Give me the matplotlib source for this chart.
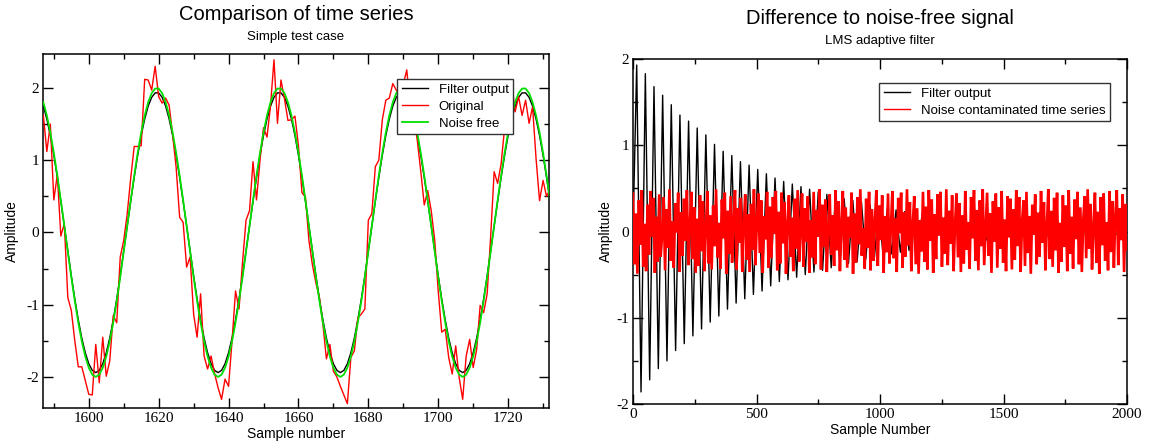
import numpy as np
import matplotlib
matplotlib.use("Agg")
import matplotlib.pyplot as plt
from matplotlib.ticker import MultipleLocator

plt.rcParams['font.family'] = ['Liberation Sans', 'DejaVu Sans']
plt.rcParams['axes.unicode_minus'] = False

# ---- left panel: samples 1587..1732 ----
sample_start = 1587
filter_output = [
    1.748, 1.569, 1.341, 1.068, 0.762, 0.432, 0.087, -0.260, -0.599, -0.920, -1.210, -1.461, -1.665, -1.817, -1.909, -1.940, -1.909, -1.817,
    -1.665, -1.461, -1.210, -0.920, -0.599, -0.260, 0.087, 0.432, 0.762, 1.068, 1.341, 1.569, 1.748, 1.870, 1.932, 1.932, 1.870,
    1.748, 1.569, 1.341, 1.068, 0.762, 0.432, 0.087, -0.260, -0.599, -0.920, -1.210, -1.461, -1.665, -1.817, -1.909, -1.940, -1.909, -1.817,
    -1.665, -1.461, -1.210, -0.920, -0.599, -0.260, 0.087, 0.432, 0.762, 1.068, 1.341, 1.569, 1.748, 1.870, 1.932, 1.932, 1.870,
    1.748, 1.569, 1.341, 1.068, 0.762, 0.432, 0.087, -0.260, -0.599, -0.920, -1.210, -1.461, -1.665, -1.817, -1.909, -1.940, -1.909, -1.817,
    -1.665, -1.461, -1.210, -0.920, -0.599, -0.260, 0.087, 0.432, 0.762, 1.068, 1.341, 1.569, 1.748, 1.870, 1.932, 1.932, 1.870,
    1.748, 1.569, 1.341, 1.068, 0.762, 0.432, 0.087, -0.260, -0.599, -0.920, -1.210, -1.461, -1.665, -1.817, -1.909, -1.940, -1.909, -1.817,
    -1.665, -1.461, -1.210, -0.920, -0.599, -0.260, 0.087, 0.432, 0.762, 1.068, 1.341, 1.569, 1.748, 1.870, 1.932, 1.932, 1.870,
    1.748, 1.569, 1.341, 1.068, 0.762, 0.432,
]
original = [
    1.62, 1.12, 1.50, 0.45, 0.80, -0.05, 0.12, -0.90, -1.08, -1.50, -1.86, -1.86, -2.05, -2.24, -2.25, -1.55, -2.08, -1.45, -1.99, -1.78,
    -1.15, -1.25, -0.34, -0.11, 0.26, 0.75, 1.19, 1.19, 1.20, 2.12, 2.11, 1.97, 2.30, 1.88, 1.79, 1.86, 1.76, 1.35, 0.90, 0.21,
    0.14, -0.48, -0.34, -1.13, -1.45, -0.85, -1.71, -1.89, -1.71, -1.95, -2.15, -2.31, -2.03, -2.13, -1.50, -0.81, -1.06, -0.41, 0.17, 0.30,
    0.98, 0.45, 1.00, 1.45, 1.32, 1.75, 2.39, 1.51, 2.11, 1.85, 1.55, 1.56, 1.61, 1.20, 0.55, 0.49, -0.11, -0.45, -0.70, -0.90,
    -1.27, -1.75, -1.55, -1.92, -2.00, -2.13, -2.25, -2.37, -1.73, -1.64, -1.18, -1.13, -1.06, 0.17, 0.26, 0.91, 1.00, 1.56, 1.83, 1.86,
    2.06, 1.97, 1.90, 2.05, 2.25, 1.75, 1.60, 1.28, 0.85, 0.38, 0.58, 0.30, -0.11, -0.81, -1.38, -1.34, -1.73, -1.96, -1.57, -2.01,
    -2.31, -1.71, -1.48, -1.87, -1.62, -1.01, -1.11, -0.85, -0.06, 0.84, 0.68, 0.95, 1.45, 1.83, 2.09, 1.67, 1.88, 1.62, 1.83, 1.51,
    1.74, 1.02, 0.44, 0.72, 0.50, 0.60,
]
noise_free = [
    1.802, 1.618, 1.382, 1.101, 0.786, 0.445, 0.090, -0.268, -0.618, -0.948, -1.247, -1.506, -1.717, -1.873, -1.968, -2.000, -1.968, -1.873,
    -1.717, -1.506, -1.247, -0.948, -0.618, -0.268, 0.090, 0.445, 0.786, 1.101, 1.382, 1.618, 1.802, 1.928, 1.992, 1.992, 1.928,
    1.802, 1.618, 1.382, 1.101, 0.786, 0.445, 0.090, -0.268, -0.618, -0.948, -1.247, -1.506, -1.717, -1.873, -1.968, -2.000, -1.968, -1.873,
    -1.717, -1.506, -1.247, -0.948, -0.618, -0.268, 0.090, 0.445, 0.786, 1.101, 1.382, 1.618, 1.802, 1.928, 1.992, 1.992, 1.928,
    1.802, 1.618, 1.382, 1.101, 0.786, 0.445, 0.090, -0.268, -0.618, -0.948, -1.247, -1.506, -1.717, -1.873, -1.968, -2.000, -1.968, -1.873,
    -1.717, -1.506, -1.247, -0.948, -0.618, -0.268, 0.090, 0.445, 0.786, 1.101, 1.382, 1.618, 1.802, 1.928, 1.992, 1.992, 1.928,
    1.802, 1.618, 1.382, 1.101, 0.786, 0.445, 0.090, -0.268, -0.618, -0.948, -1.247, -1.506, -1.717, -1.873, -1.968, -2.000, -1.968, -1.873,
    -1.717, -1.506, -1.247, -0.948, -0.618, -0.268, 0.090, 0.445, 0.786, 1.101, 1.382, 1.618, 1.802, 1.928, 1.992, 1.992, 1.928,
    1.802, 1.618, 1.382, 1.101, 0.786, 0.445,
]

# ---- right panel: difference to noise-free signal, samples 0..2000 ----
# filter error: value at sample 0, then at every half period (17.5 samples) from sample 15
err_first = 0.0
err_extrema = [
    1.93, -1.86, 1.83, -1.72, 1.68, -1.59, 1.58, -1.50, 1.47, -1.38, 1.35, -1.30, 1.28, -1.21, 1.20, -1.13, 1.12, -1.05, 1.01, -0.98,
    0.93, -0.90, 0.88, -0.83, 0.81, -0.78, 0.77, -0.73, 0.72, -0.69, 0.67, -0.63, 0.62, -0.58, 0.58, -0.56, 0.55, -0.53, 0.52, -0.50,
    0.49, -0.47, 0.46, -0.45, 0.43, -0.42, 0.41, -0.39, 0.38, -0.37, 0.36, -0.35, 0.34, -0.32, 0.31, -0.30, 0.29, -0.28, 0.27, -0.26,
    0.25, -0.24, 0.23, -0.22, 0.21, -0.20, 0.19, -0.19, 0.18, -0.17, 0.16, -0.16, 0.15, -0.14, 0.14, -0.13, 0.12, -0.12, 0.11, -0.11,
    0.10, -0.10, 0.09, -0.09, 0.08, -0.08, 0.08, -0.07, 0.07, -0.07, 0.06, -0.06, 0.06, -0.06, 0.05, -0.05, 0.05, -0.05, 0.05, -0.04,
    0.04, -0.04, 0.04, -0.04, 0.04, -0.03, 0.03, -0.03, 0.03, -0.03, 0.03, -0.03, 0.03, -0.03,
]
noise = [
    0.44, -0.38, 0.21, -0.49, 0.36, -0.15, 0.48, -0.41, 0.09, -0.46, 0.31, -0.27, 0.47, -0.06, 0.39, -0.48, 0.17, -0.35, 0.43, -0.29,
    -0.04, 0.40, -0.45, 0.26, -0.19, 0.49, -0.34, 0.12, -0.42, 0.33, -0.01, 0.45, -0.47, 0.22, -0.28, 0.38, -0.11, 0.48, -0.39, 0.07,
    0.46, -0.32, 0.28, -0.48, 0.15, -0.40, 0.42, -0.23, 0.35, -0.46, 0.03, 0.47, -0.37, 0.19, -0.44, 0.30, -0.17, 0.49, -0.30, 0.10,
    -0.43, 0.37, -0.08, 0.45, -0.49, 0.24, -0.26, 0.41, -0.36, 0.14, 0.48, -0.44, 0.27, -0.13, 0.39, -0.47, 0.06, 0.43, -0.33, 0.20,
    -0.47, 0.32, -0.21, 0.49, -0.39, 0.11, 0.44, -0.25, 0.36, -0.48, 0.18, -0.09, 0.46, -0.42, 0.29, -0.31, 0.40, -0.03, 0.47, -0.45,
    0.23, -0.37, 0.45, -0.14, 0.34, -0.49, 0.08, 0.42, -0.29, 0.16, -0.46, 0.38, -0.20, 0.48, -0.35, 0.02, 0.44, -0.41, 0.27, -0.12,
    0.41, -0.48, 0.13, -0.30, 0.46, -0.38, 0.25, -0.06, 0.49, -0.44, 0.31, -0.18, 0.37, -0.47, 0.05, 0.43, -0.27, 0.19, -0.40, 0.48,
    -0.22, 0.35, -0.46, 0.10, 0.47, -0.33, 0.28, -0.42, 0.17, -0.07, 0.45, -0.49, 0.21, -0.36, 0.40, -0.15, 0.49, -0.28, 0.04, -0.43,
    0.38, -0.19, 0.46, -0.45, 0.26, -0.34, 0.12, 0.48, -0.40, 0.30, -0.10, 0.42, -0.48, 0.18, -0.24, 0.44, -0.37, 0.07, 0.47, -0.31,
    0.15, -0.47, 0.39, -0.02, 0.45, -0.42, 0.22, -0.29, 0.49, -0.16, 0.34, -0.46, 0.09, 0.41, -0.38, 0.27, -0.49, 0.13, -0.23, 0.46,
    -0.35, 0.29, -0.44, 0.48, -0.11, 0.37, -0.48, 0.20, -0.32, 0.43, -0.05, 0.46, -0.41, 0.16, -0.26, 0.49, -0.39, 0.24, -0.14, 0.42,
    -0.46, 0.08, 0.44, -0.30, 0.33, -0.47, 0.19, -0.37, 0.47, -0.21, 0.11, -0.43, 0.40, -0.08, 0.48, -0.34, 0.25, -0.45, 0.36, -0.17,
    0.49, -0.39, 0.03, 0.45, -0.28, 0.21, -0.48, 0.35, -0.12, 0.44, -0.42, 0.28, -0.20, 0.47, -0.36, 0.14, -0.46, 0.41, -0.07, 0.38,
    -0.44, 0.26, -0.33, 0.48, -0.17, 0.40, -0.47, 0.12, 0.36, -0.40, 0.46, -0.25, 0.18, -0.49, 0.31, -0.04, 0.43, -0.38, 0.22, -0.29,
    0.47, -0.13, 0.34, -0.45, 0.06, 0.49, -0.32, 0.24, -0.41, 0.39, -0.22, 0.45, -0.48, 0.10, -0.35, 0.42, -0.18, 0.30, -0.46, 0.48,
    -0.26, 0.17, -0.43, 0.37, -0.09, 0.46, -0.38, 0.28, -0.47, 0.14, 0.41, -0.31, 0.49, -0.20, 0.32, -0.44, 0.05, 0.45, -0.36, 0.23,
    -0.49, 0.40, -0.16, 0.44, -0.34, 0.11, -0.45, 0.47, -0.24, 0.35, -0.42, 0.19, 0.48, -0.39, 0.27, -0.10, 0.43, -0.47, 0.32, -0.21,
]

W, H = 1151, 444
fig = plt.figure(figsize=(W / 100, H / 100), dpi=100)


def px_axes(l, t, r, b):
    return fig.add_axes([l / W, 1 - b / H, (r - l) / W, (b - t) / H])


def style(ax, xmaj, xmin, ymaj, ymin):
    ax.xaxis.set_major_locator(MultipleLocator(xmaj))
    ax.xaxis.set_minor_locator(MultipleLocator(xmin))
    ax.yaxis.set_major_locator(MultipleLocator(ymaj))
    ax.yaxis.set_minor_locator(MultipleLocator(ymin))
    ax.tick_params(which='both', direction='in', top=True, right=True, width=1.0,
                   labelsize=11, pad=3)
    ax.tick_params(which='major', length=7)
    ax.tick_params(which='minor', length=3.5)
    for lab in ax.get_xticklabels() + ax.get_yticklabels():
        lab.set_family('Liberation Serif')
    for s in ax.spines.values():
        s.set_linewidth(1.1)


# left panel
ax1 = px_axes(43, 54, 549, 408)
t = np.arange(sample_start, sample_start + len(original))
ax1.plot(t, filter_output, color='black', lw=1.0, label='Filter output', zorder=2)
ax1.plot(t, original, color='#ff0000', lw=1.0, label='Original', zorder=3)
ax1.plot(t, noise_free, color='#00e000', lw=1.3, label='Noise free', zorder=4)
ax1.set_xlim(1586.9, 1731.7)
ax1.set_ylim(-2.43, 2.47)
style(ax1, 20, 10, 1, 0.5)
ax1.set_xlabel('Sample number', fontsize=10, labelpad=1)
ax1.set_ylabel('Amplitude', fontsize=10, labelpad=5)
leg1 = ax1.legend(loc='upper left', bbox_to_anchor=(0.70, 0.929), fontsize=9.5,
                  frameon=True, fancybox=False, framealpha=1, edgecolor='#333333',
                  handlelength=2.0, handletextpad=0.8, labelspacing=0.35,
                  borderpad=0.35, borderaxespad=0)
leg1.get_frame().set_linewidth(1.0)

# right panel
ax2 = px_axes(633, 59, 1127, 404)
err_x = np.concatenate([[0.0], 15 + 17.5 * np.arange(len(err_extrema))])
err_y = [err_first] + err_extrema
noise_x = np.linspace(0, 2000, len(noise))
ax2.plot(err_x, err_y, color='black', lw=1.0, label='Filter output', zorder=2)
ax2.plot(noise_x, noise, color='#ff0000', lw=1.9, solid_joinstyle='miter',
         label='Noise contaminated time series', zorder=3)
ax2.set_xlim(0, 2000)
ax2.set_ylim(-2, 2)
style(ax2, 500, 250, 1, 0.5)
ax2.set_xlabel('Sample Number', fontsize=10, labelpad=1)
ax2.set_ylabel('Amplitude', fontsize=10, labelpad=2)
leg2 = ax2.legend(loc='upper left', bbox_to_anchor=(0.498, 0.930), fontsize=9.5,
                  frameon=True, fancybox=False, framealpha=1, edgecolor='#333333',
                  handlelength=2.0, handletextpad=0.8, labelspacing=0.35,
                  borderpad=0.35, borderaxespad=0)
leg2.get_frame().set_linewidth(1.0)
for line in leg2.get_lines():
    line.set_linewidth(1.0)

# titles
fig.text(296 / W, 1 - 14 / H, 'Comparison of time series', ha='center', va='center', fontsize=14.5)
fig.text(296 / W, 1 - 37 / H, 'Simple test case', ha='center', va='center', fontsize=9.5)
fig.text(880 / W, 1 - 19 / H, 'Difference to noise-free signal', ha='center', va='center', fontsize=14.5)
fig.text(880 / W, 1 - 41 / H, 'LMS adaptive filter', ha='center', va='center', fontsize=9.5)

fig.savefig('out.png', dpi=100)
